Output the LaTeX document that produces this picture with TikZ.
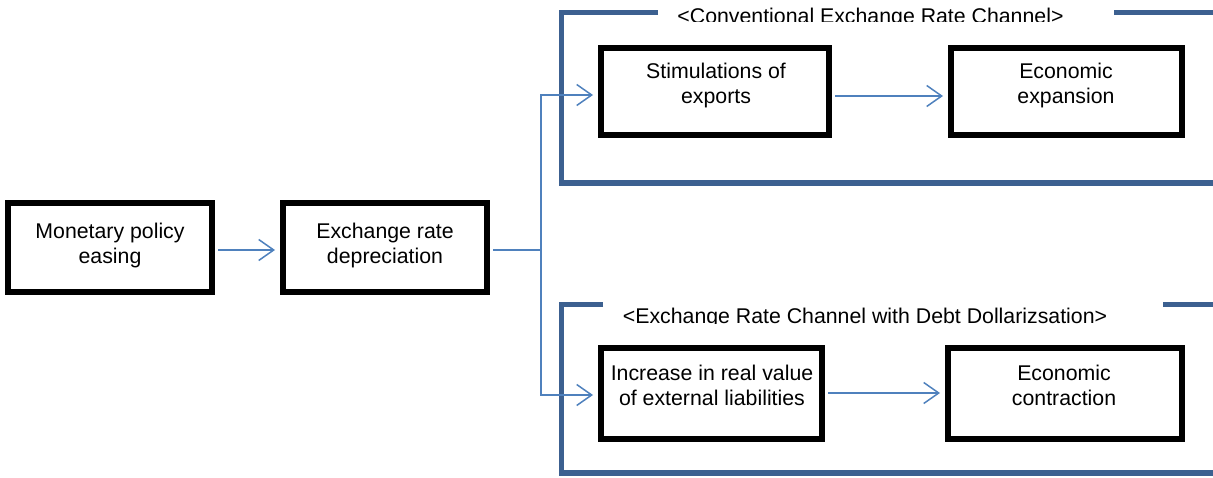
\documentclass[tikz,border=0pt]{standalone}
\usepackage{fontspec}
\setmainfont{Liberation Sans}
\usetikzlibrary{arrows.meta}
\definecolor{framec}{HTML}{3C6090}
\definecolor{arrc}{HTML}{4F81BD}
\begin{document}
\begin{tikzpicture}[x=1pt,y=-1pt,
  box/.style={draw=black,line width=6pt,rectangle,inner sep=0pt},
  txt/.style={font=\fontsize{21.3}{25}\selectfont,align=center,inner sep=0pt},
  frame/.style={draw=framec,line width=5.5pt},
  conn/.style={draw=arrc,line width=1.5pt,shorten <=3pt,shorten >=5pt,
    -{Straight Barb[length=15pt,width=21pt,line width=1.5pt]}},
  plain/.style={draw=arrc,line width=1.5pt,shorten <=3pt}]
\useasboundingbox (0,0) rectangle (1213,478);
% main boxes
\node[box,minimum width=204,minimum height=89] (mp) at (110,248) {};
\node[txt] (mpt) at (110,245) {Monetary policy\\easing};
\node[box,minimum width=204,minimum height=89] (er) at (385,248) {};
\node[txt] (ert) at (385,245) {Exchange rate\\depreciation};
% top group
\node[box,minimum width=228,minimum height=87] (se) at (715,91.5) {};
\node[txt] (set) at (716,85) {Stimulations of\\exports};
\node[box,minimum width=231,minimum height=87] (ee) at (1066.5,91.5) {};
\node[txt] (eet) at (1066,85) {Economic\\expansion};
% bottom group
\node[box,minimum width=221,minimum height=91] (iv) at (711.5,393.5) {};
\node[txt] (ivt) at (712,385) {Increase in real value\\of external liabilities};
\node[box,minimum width=234,minimum height=91] (ec) at (1065,393.5) {};
\node[txt] (ect) at (1064,385) {Economic\\contraction};
% frames
\draw[frame] (658,12.5) -- (561.5,12.5) -- (561.5,183) -- (1213,183);
\draw[frame] (1114,12.5) -- (1213,12.5);
\draw[frame] (603,304.5) -- (561.5,304.5) -- (561.5,473) -- (1213,473);
\draw[frame] (1163,304.5) -- (1213,304.5);
\begin{scope}
\clip (600,0) rectangle (1150,22);
\node[txt,anchor=base] (t1) at (870.5,23.5) {<Conventional Exchange Rate Channel>};
\end{scope}
\begin{scope}
\clip (600,290) rectangle (1150,324);
\node[txt,anchor=base] (t2) at (865,323.5) {<Exchange Rate Channel with Debt Dollarizsation>};
\end{scope}
% connectors
\coordinate (jn) at (541,250);
\draw[conn] (mp.east |- 0,250) -- (er.west |- 0,250);
\draw[plain] (er.east |- 0,250) -- (jn);
\draw[conn,shorten <=0pt] (jn) -- (541,95) -- (se.west |- 0,95);
\draw[conn,shorten <=0pt] (jn) -- (541,395) -- (iv.west |- 0,395);
\draw[conn] (se.east |- 0,96) -- (ee.west |- 0,96);
\draw[conn] (iv.east |- 0,393) -- (ec.west |- 0,393);
\end{tikzpicture}
\end{document}
